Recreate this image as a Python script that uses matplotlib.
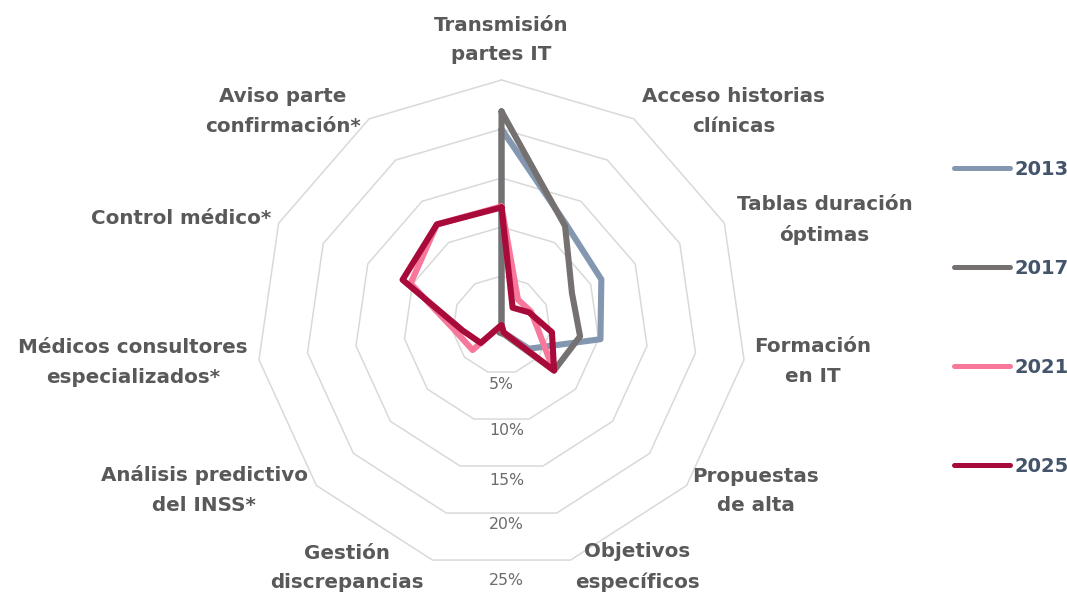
import numpy as np
import matplotlib
matplotlib.use("Agg")
import matplotlib.pyplot as plt
from matplotlib.lines import Line2D

# ---------------- data ----------------
categories = [
    "Transmisión\npartes IT",
    "Acceso historias\nclínicas",
    "Tablas duración\nóptimas",
    "Formación\nen IT",
    "Propuestas\nde alta",
    "Objetivos\nespecíficos",
    "Gestión\ndiscrepancias",
    "Análisis predictivo\ndel INSS*",
    "Médicos consultores\nespecializados*",
    "Control médico*",
    "Aviso parte\nconfirmación*",
]
years = ["2013", "2017", "2021", "2025"]
v2013 = [20.0, 12.2, 11.2, 10.2, 3.7, 0.8, 0.3, 0.0, 0.0, 0.0, 0.0]
v2017 = [21.8, 12.0, 7.9, 8.1, 7.1, 1.0, 0.8, 0.0, 0.0, 0.0, 0.0]
v2021 = [12.1, 3.1, 3.3, 3.8, 7.0, 0.8, 0.0, 3.9, 4.7, 10.2, 12.2]
v2025 = [12.0, 2.1, 3.1, 5.2, 7.1, 0.8, 0.0, 2.8, 4.0, 11.1, 12.2]
ring_values = [5, 10, 15, 20, 25]
ring_labels = ["5%", "10%", "15%", "20%", "25%"]

# ---------------- style / layout ----------------
series = [v2013, v2017, v2021, v2025]
colors = ["#8497B0", "#767171", "#F7789A", "#A80A3A"]
grid_color = "#D9D9D9"
label_color = "#595959"
legend_color = "#44546A"

# label offsets (pixels) from the outer ring vertex
label_offsets = [(0, 40), (100, 7), (100, 3), (69, -2), (69, -5.5), (66.5, -7),
                 (-85.5, -8), (-112, -4.5), (-126, -3), (-97.6, 5), (-86, 7)]
# radial positions of the percentage labels (below the centre)
ring_label_r = [6.05, 10.76, 15.88, 20.39, 26.06]

W, H = 1067, 596
fig = plt.figure(figsize=(W / 100, H / 100), dpi=100)
cx, cy, R = 501.5, 325.0, 245.0
ax = fig.add_axes([(cx - R) / W, (H - cy - R) / H, 2 * R / W, 2 * R / H],
                  projection="polar")
ax.set_theta_zero_location("N")
ax.set_theta_direction(-1)
ax.set_ylim(0, 25)
ax.set_xticks([])
ax.set_yticks([])
ax.grid(False)
ax.spines["polar"].set_visible(False)
ax.patch.set_visible(False)

n = len(categories)
theta = np.linspace(0, 2 * np.pi, n, endpoint=False)
theta_c = np.append(theta, theta[0])

for rv in ring_values:
    ax.plot(theta_c, np.full(n + 1, rv), color=grid_color, lw=1.1,
            clip_on=False, zorder=1)

for vals, col in zip(series, colors):
    vv = np.append(vals, vals[0])
    ax.plot(theta_c, vv, color=col, lw=4.4, solid_joinstyle="round",
            solid_capstyle="round", clip_on=False, zorder=3)

for lab, th, (dx, dy) in zip(categories, theta, label_offsets):
    ax.annotate(lab, xy=(th, 25), xytext=(dx, dy), textcoords="offset pixels",
                ha="center", va="center", ma="center", fontsize=14.3,
                fontweight="bold", color=label_color, linespacing=1.72,
                annotation_clip=False)

for lab, rr in zip(ring_labels, ring_label_r):
    ax.annotate(lab, xy=(np.pi, rr), xytext=(-12.5, 0), textcoords="offset pixels",
                ha="left", va="center", fontsize=11.3, color="#6B6B6B",
                annotation_clip=False)

handles = [Line2D([], [], color=c, lw=3.6, solid_capstyle="round") for c in colors]
leg = fig.legend(handles, years, loc="center left",
                 bbox_to_anchor=(954 / W, 1 - 318 / H), frameon=False,
                 borderpad=0, borderaxespad=0, handlelength=2.9,
                 handletextpad=0.2, labelspacing=4.12,
                 prop=dict(weight="bold", size=14))
for t in leg.get_texts():
    t.set_color(legend_color)

fig.savefig("out.png", dpi=100)
